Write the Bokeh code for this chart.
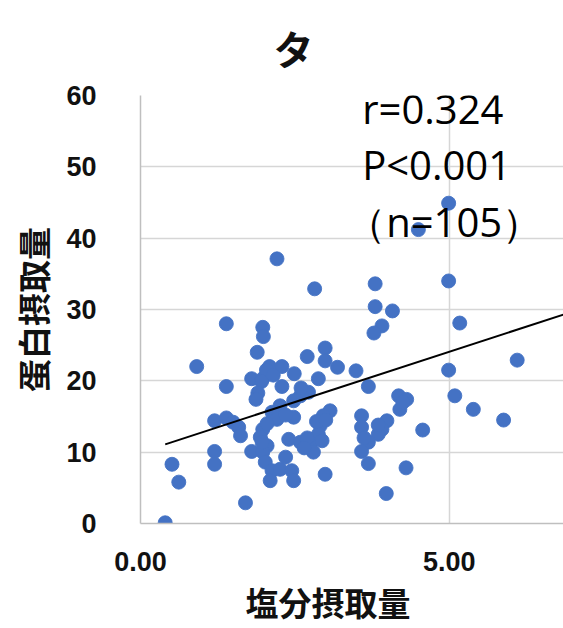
from bokeh.plotting import figure
from bokeh.layouts import column
from bokeh.models import Label, Range1d, FixedTicker, ColumnDataSource, Title
from bokeh.core.properties import value
from bokeh.embed import file_html
from bokeh.resources import INLINE

# ---- data ----
salt = [4.99, 4.50, 2.21, 2.82, 3.80, 4.99, 3.80, 4.08, 5.17, 3.91,
        3.78, 1.39, 1.98, 1.99, 6.10, 0.91, 1.89, 2.70, 2.99, 2.99,
        3.19, 3.49, 4.99, 2.09, 2.29, 2.49, 2.88, 1.80, 1.98, 1.39,
        2.29, 2.04, 1.96, 1.90, 1.87, 3.69, 5.09, 2.59, 2.72, 2.48,
        2.26, 2.13, 4.18, 4.31, 4.20, 5.39, 5.88, 2.48, 2.21, 3.07,
        2.96, 2.91, 2.88, 3.58, 3.58, 3.99, 3.91, 3.85, 4.57, 1.20,
        1.39, 1.59, 1.62, 1.98, 1.94, 2.05, 2.40, 2.59, 2.75, 2.80,
        2.94, 1.80, 1.20, 1.20, 3.69, 3.58, 3.69, 1.98, 2.02, 2.13,
        2.26, 2.45, 2.10, 2.48, 2.99, 4.30, 3.98, 0.51, 0.62, 1.70,
        0.40, 2.05, 2.35, 2.70, 2.85, 1.50, 2.65, 3.62, 4.25, 3.00,
        2.15, 2.60, 3.85, 2.35, 1.97]
protein = [44.9, 41.2, 37.1, 32.9, 33.6, 34.0, 30.4, 29.8, 28.1, 27.7,
           26.7, 28.0, 27.5, 26.2, 22.9, 22.0, 24.0, 23.4, 24.6, 22.8,
           21.9, 21.4, 21.5, 22.0, 22.0, 21.0, 20.3, 20.3, 20.3, 19.2,
           19.2, 21.5, 19.9, 18.3, 17.4, 19.2, 17.9, 17.9, 18.4, 17.2,
           16.5, 15.6, 17.9, 17.4, 16.0, 16.0, 14.5, 14.9, 14.6, 15.8,
           15.1, 13.7, 12.5, 15.1, 13.5, 14.4, 13.2, 12.5, 13.1, 14.4,
           14.8, 13.5, 12.3, 13.2, 12.1, 10.9, 11.8, 11.4, 11.1, 10.0,
           11.6, 10.1, 10.1, 8.3, 11.4, 10.1, 8.4, 10.0, 8.6, 7.4,
           7.6, 7.4, 6.0, 6.0, 6.9, 7.8, 4.2, 8.3, 5.8, 2.9,
           0.1, 14.0, 15.2, 12.0, 14.3, 14.2, 10.6, 12.0, 17.0, 14.5,
           20.8, 19.0, 13.8, 9.3, 11.4]

trend_slope = 2.82
trend_intercept = 9.97
trend_x = [0.40, 7.0]
trend_y = [trend_intercept + trend_slope * v for v in trend_x]

stat_lines = ["r=0.324", "P<0.001", "（n=105）"]
title_text = "タ"
x_label = "塩分摂取量"
y_label = "蛋白摂取量"
x_ticks = [0, 5]
x_tick_labels = {0: "0.00", 5: "5.00"}
y_ticks = [0, 10, 20, 30, 40, 50, 60]

# ---- title strip (separate small figure; its frame is aligned with the main frame) ----
TOP_H = 80
head = figure(width=563, height=TOP_H, output_backend="svg", toolbar_location=None,
              x_range=Range1d(140, 563), y_range=Range1d(0, TOP_H),
              x_axis_location=None, y_axis_location=None,
              min_border=0, min_border_left=0, min_border_right=0,
              min_border_top=0, min_border_bottom=0)
head.outline_line_color = None
head.xgrid.visible = False
head.ygrid.visible = False
head.text(x=[293], y=[TOP_H - 47], text=[title_text], text_align="center",
          text_baseline="alphabetic", text_font=value("Noto Sans CJK JP"),
          text_font_size="40px", text_font_style="bold", text_color="#111111")

# ---- main scatter ----
p = figure(width=563, height=628 - TOP_H, output_backend="svg", toolbar_location=None,
           x_range=Range1d(0, 6.85), y_range=Range1d(0, 60),
           min_border_left=140, min_border_right=0,
           min_border_top=95 - TOP_H, min_border_bottom=105)
p.outline_line_color = None
p.background_fill_color = "white"
p.border_fill_color = "white"

for ax in (p.xaxis[0], p.yaxis[0]):
    ax.axis_line_color = "#bfbfbf"
    ax.axis_line_width = 1.5
    ax.major_tick_line_color = None
    ax.minor_tick_line_color = None
    ax.major_label_text_font = "Liberation Sans"
    ax.major_label_text_font_style = "bold"
    ax.major_label_text_font_size = "27px"
    ax.major_label_text_color = "#111111"
    ax.axis_label_text_font = "Noto Sans CJK JP"
    ax.axis_label_text_font_style = "bold"
    ax.axis_label_text_font_size = "33px"
    ax.axis_label_text_color = "#111111"

p.xaxis[0].ticker = FixedTicker(ticks=x_ticks)
p.xaxis[0].major_label_overrides = x_tick_labels
p.xaxis[0].major_label_standoff = 22

p.add_layout(Title(text=x_label, align="left", offset=105,
                   text_font="Noto Sans CJK JP", text_font_size="33px",
                   text_font_style="bold", text_color="#111111",
                   standoff=4), "below")

p.yaxis[0].ticker = FixedTicker(ticks=y_ticks)
p.yaxis[0].major_label_standoff = 38
p.yaxis[0].axis_label = y_label
p.yaxis[0].axis_label_standoff = 6

p.xgrid.grid_line_color = "#d6d6d6"
p.ygrid.grid_line_color = "#d6d6d6"
p.xgrid.grid_line_width = 1.5
p.ygrid.grid_line_width = 1.5

src = ColumnDataSource(dict(x=salt, y=protein))
p.scatter("x", "y", source=src, size=14, fill_color="#4472c4",
          line_color="#4472c4", line_alpha=0.9)

p.line(trend_x, trend_y, line_color="black", line_width=2)

stat_x = [3.59, 3.59, 3.33]
stat_y = [58.2, 50.3, 42.4]
for t, sx, sy in zip(stat_lines, stat_x, stat_y):
    p.add_layout(Label(x=sx, y=sy, text=t, text_font="Open Sans",
                       text_font_size="40px", text_color="black",
                       text_baseline="alphabetic"))

layout = column(head, p, spacing=0)
open("out.html", "w").write(file_html(layout, INLINE))
